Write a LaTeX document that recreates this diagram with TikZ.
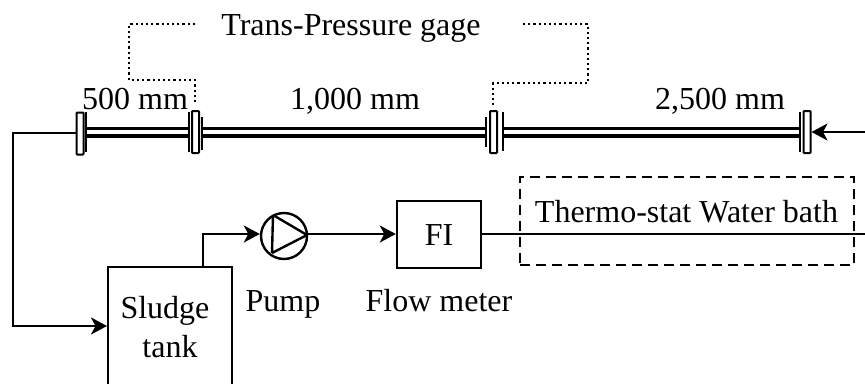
\documentclass[tikz,border=0pt]{standalone}
\usepackage{fontspec}
\setmainfont{Liberation Serif}
\usetikzlibrary{arrows.meta}
\tikzset{
  px/.style={x=1pt,y=-1pt},
  lbl/.style={inner sep=0pt,anchor=base,font=\fontsize{32}{36}\selectfont,text=black},
  box/.style={draw,line width=2.4pt,inner sep=0pt},
  pipe/.style={line width=3.4pt},
  wire/.style={line width=2.4pt},
  arr/.style={wire,-{Stealth[length=16pt,width=17pt,inset=4.5pt]}},
  gauge/.style={line width=2.2pt,dash pattern=on 2.2pt off 3pt},
  flange/.style={draw,fill=white,line width=2pt,rounded corners=0.8pt,minimum width=7pt,minimum height=42pt,inner sep=0pt},
  bar/.style={line width=2.6pt}
}
\begin{document}
\begin{tikzpicture}[px]
\useasboundingbox (0,0) rectangle (865,383);
\clip (0,0) rectangle (865,383);
% pipe
\draw[pipe] (85,128.5) -- (189,128.5) (85,136) -- (189,136);
\draw[pipe] (202,128.5) -- (486,128.5) (202,136) -- (486,136);
\draw[pipe] (503,128.5) -- (800,128.5) (503,136) -- (800,136);
\node[flange] (f1) at (80,133.5) {};
\node[flange] (f2) at (195.5,132) {};
\node[flange] (f3) at (493.5,132) {};
\node[flange] (f4) at (807,132) {};
\draw[bar] (86,112) -- (86,152);
\draw[bar] (189,112) -- (189,152);
\draw[bar] (202,117) -- (202,150);
\draw[bar] (486,117) -- (486,147);
\draw[bar] (503,112) -- (503,151);
\draw[bar] (800,112) -- (800,152);
% gauge lines
\coordinate (g1) at (195,104);
\coordinate (g2) at (195,24);
\coordinate (g3) at (493,107);
\coordinate (g4) at (523,24);
\draw[gauge] (g2) -- (129,24) -- (129,80) -- (195,80) -- (g1);
\draw[gauge] (g4) -- (588,24) -- (588,83) -- (493,83) -- (g3);
% labels
\node[lbl] (tp) at (351,35) {Trans-Pressure gage};
\node[lbl] (l1) at (135,109) {500 mm};
\node[lbl] (l2) at (355,109) {1,000 mm};
\node[lbl] (l3) at (720,109) {2,500 mm};
% equipment
\node[box,minimum width=124pt,minimum height=160pt,anchor=north west] (tank) at (107,266) {};
\node[lbl] at (165,318) {Sludge};
\node[lbl] at (170,357) {tank};
\node[draw,circle,line width=2.4pt,minimum size=46pt,inner sep=0pt] (pump) at (284,236) {};
\draw[line width=2.4pt,line join=round] (273,215) -- (307,235) -- (272,253);
\draw[line width=2.4pt] (273,215) -- (272,253);
\node[box,minimum width=84pt,minimum height=67pt] (fi) at (439,234.5) {};
\node[lbl] at (439,245) {FI};
\node[draw,line width=2.4pt,dash pattern=on 10pt off 6pt,minimum width=334pt,minimum height=88pt,inner sep=0pt] (bath) at (687,221) {};
\node[lbl] at (686.5,222) {Thermo-stat Water bath};
\node[lbl] at (283,311) {Pump};
\node[lbl] at (439,311) {Flow meter};
% connectors
\coordinate (in) at (865,132);
\coordinate (out) at (865,234);
\draw[arr] (in) -- (f4.east);
\draw[arr] (f1.west |- 0,133) -- (13,133) -- (13,326) -- (tank.west |- 0,326);
\draw[arr] (203,267) -- (203,234) -- (pump.west |- 0,234);
\draw[arr] (pump.east |- 0,234) -- (fi.west |- 0,234);
\draw[wire] (fi.east |- 0,234) -- (out);
\end{tikzpicture}
\end{document}
